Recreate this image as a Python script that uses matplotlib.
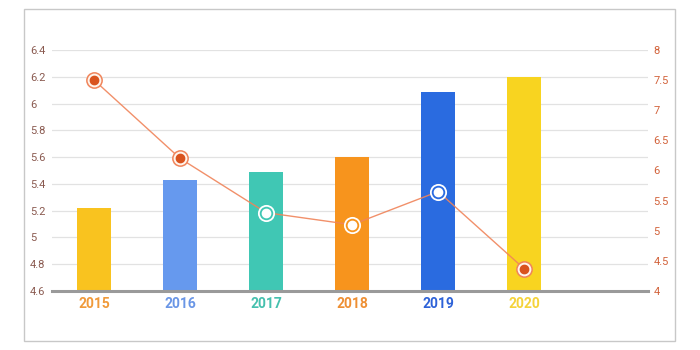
import matplotlib
matplotlib.use("Agg")
import matplotlib.pyplot as plt
from matplotlib.patches import Rectangle

plt.rcParams["font.family"] = ["Roboto", "DejaVu Sans"]

years = ["2015", "2016", "2017", "2018", "2019", "2020"]
bar_values = [5.22, 5.43, 5.49, 5.60, 6.09, 6.20]
line_values = [7.5, 6.2, 5.3, 5.1, 5.65, 4.37]

left_ticks = [4.6, 4.8, 5.0, 5.2, 5.4, 5.6, 5.8, 6.0, 6.2, 6.4]
left_labels = ["4.6", "4.8", "5", "5.2", "5.4", "5.6", "5.8", "6", "6.2", "6.4"]
right_ticks = [4, 4.5, 5, 5.5, 6, 6.5, 7, 7.5, 8]
right_labels = ["4", "4.5", "5", "5.5", "6", "6.5", "7", "7.5", "8"]

bar_colors = ["#F9C31F", "#6699EE", "#40C7B4", "#F7941D", "#2A6BE0", "#F8D420"]
label_colors = ["#F09A3A", "#6A96E6", "#45C0AE", "#EE8F33", "#2D62D8", "#F5D33A"]
# markers sitting on top of a bar are drawn inverted (white dot)
marker_inverted = [False, False, True, True, True, False]

LINE_COLOR = "#F0845A"
DOT_COLOR = "#D9531E"


def main() -> None:
    fig = plt.figure(figsize=(7, 3.5), dpi=100, facecolor="white")
    fig.patches.append(Rectangle((24 / 700, 9 / 350), 651 / 700, 332 / 350,
                                 transform=fig.transFigure, fill=False,
                                 edgecolor="#c8c8c8", linewidth=1.0))

    ax = fig.add_axes([52 / 700, 1 - 291 / 350, 596 / 700, 241 / 350])
    x = list(range(len(years)))
    ax.bar(x, [v - 4.6 for v in bar_values], bottom=4.6, width=0.4,
           color=bar_colors, zorder=2)
    ax.set_xlim(-0.49, 6.44)
    ax.set_ylim(4.6, 6.4)
    ax.set_yticks(left_ticks)
    ax.set_yticklabels(left_labels)
    ax.set_xticks(x)
    ax.set_xticklabels(years, fontsize=10, fontweight="bold")
    for lbl, c in zip(ax.get_xticklabels(), label_colors):
        lbl.set_color(c)
    ax.tick_params(axis="x", length=0, pad=4)
    ax.tick_params(axis="y", length=0, labelsize=8, labelcolor="#8a5a50", pad=16)
    for lbl in ax.get_yticklabels():
        lbl.set_horizontalalignment("left")
    ax.grid(axis="y", color="#e2e2e2", linewidth=0.9, zorder=0)
    for s in ["top", "right", "left"]:
        ax.spines[s].set_visible(False)
    ax.spines["bottom"].set_color("#9a9a9a")
    ax.spines["bottom"].set_linewidth(2.2)
    ax.spines["bottom"].set_zorder(3)

    ax2 = ax.twinx()
    ax2.set_ylim(4, 8)
    ax2.set_yticks(right_ticks)
    ax2.set_yticklabels(right_labels)
    ax2.tick_params(axis="y", length=0, labelsize=8, labelcolor="#D2623A", pad=4)
    for s in ax2.spines.values():
        s.set_visible(False)
    ax2.plot(x, line_values, color=LINE_COLOR, linewidth=1.0, alpha=0.9, zorder=3)
    for xi, yi, inv, bc in zip(x, line_values, marker_inverted, bar_colors):
        if inv:
            ax2.plot(xi, yi, marker="o", markersize=11, markerfacecolor=bc,
                     markeredgecolor="white", markeredgewidth=1.3, zorder=4)
            ax2.plot(xi, yi, marker="o", markersize=6, markerfacecolor="white",
                     markeredgecolor="white", zorder=5)
        else:
            ax2.plot(xi, yi, marker="o", markersize=11, markerfacecolor="#fff4ec",
                     markeredgecolor=LINE_COLOR, markeredgewidth=1.1, zorder=4)
            ax2.plot(xi, yi, marker="o", markersize=6, markerfacecolor=DOT_COLOR,
                     markeredgecolor=DOT_COLOR, zorder=5)

    fig.savefig("out.png", dpi=100, facecolor="white")
    plt.close(fig)


if __name__ == "__main__":
    main()
